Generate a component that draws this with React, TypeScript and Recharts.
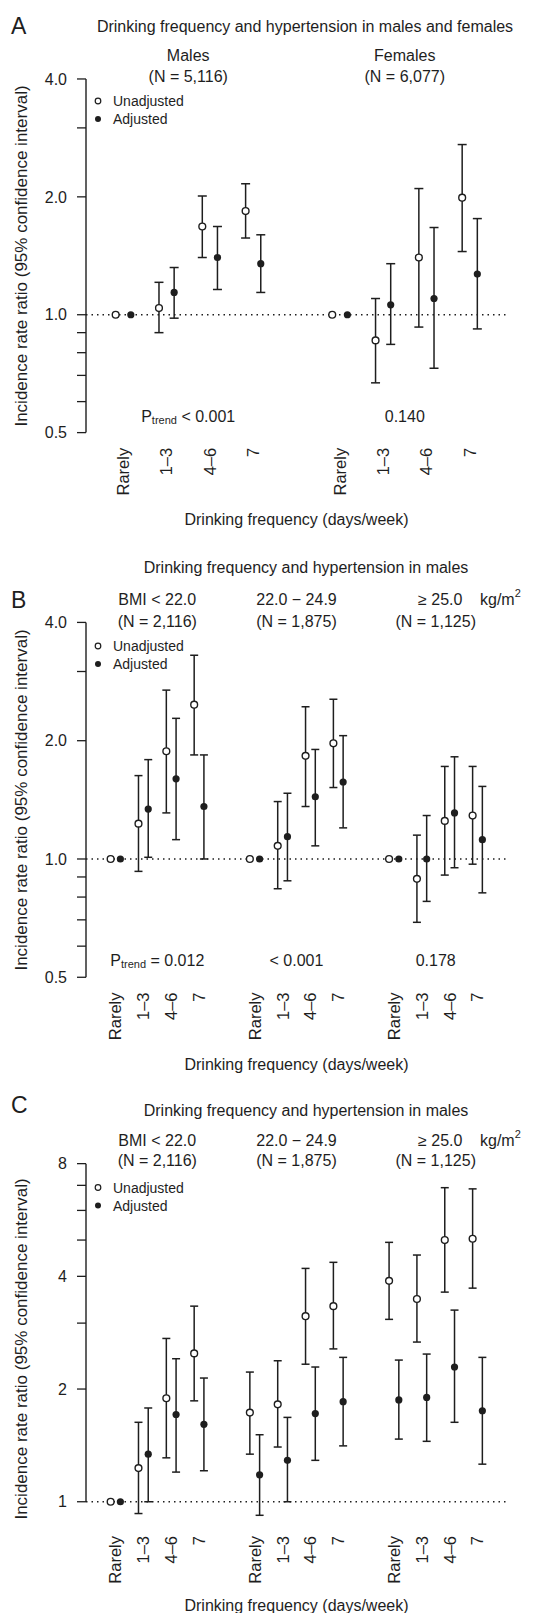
import React from "react";
import { ScatterChart, Scatter, ErrorBar, XAxis, YAxis, ReferenceLine } from "recharts";

const FONT = '"Liberation Sans", Arial, Helvetica, sans-serif';
const INK = "#1e1e1e";

const freqLabels = ["Rarely", "1–3", "4–6", "7"];
const xTitle = "Drinking frequency (days/week)";
const yTitle = "Incidence rate ratio (95% confidence interval)";

// ---------- Panel A ----------
const slotsA = [1, 2, 3, 4, 6, 7, 8, 9];
const groupsA = ["Males", "Females"];
const groupNA = ["(N = 5,116)", "(N = 6,077)"];
const pTrendA = ["< 0.001", "0.140"];
const unadjA = [1.0, 1.04, 1.68, 1.84, 1.0, 0.86, 1.4, 1.99];
const unadjLoA = [null, 0.9, 1.4, 1.57, null, 0.67, 0.93, 1.45];
const unadjHiA = [null, 1.21, 2.01, 2.16, null, 1.1, 2.1, 2.72];
const adjA = [1.0, 1.14, 1.4, 1.35, 1.0, 1.06, 1.1, 1.27];
const adjLoA = [null, 0.98, 1.16, 1.14, null, 0.84, 0.73, 0.92];
const adjHiA = [null, 1.32, 1.68, 1.6, null, 1.35, 1.67, 1.76];
const yTicksA = [0.5, 0.6, 0.7, 0.8, 0.9, 1, 2, 3, 4];
const yTickLabelsA = ["0.5", "", "", "", "", "1.0", "2.0", "", "4.0"];

// ---------- Panels B and C (BMI strata) ----------
const slotsBC = [1, 2, 3, 4, 6, 7, 8, 9, 11, 12, 13, 14];
const groupsBC = ["BMI < 22.0", "22.0 − 24.9", "≥ 25.0"];
const groupNBC = ["(N = 2,116)", "(N = 1,875)", "(N = 1,125)"];
const pTrendB = ["= 0.012", "< 0.001", "0.178"];

const unadjB = [1.0, 1.23, 1.88, 2.47, 1.0, 1.08, 1.83, 1.97, 1.0, 0.89, 1.25, 1.29];
const unadjLoB = [null, 0.93, 1.31, 1.84, null, 0.84, 1.36, 1.52, null, 0.69, 0.91, 0.97];
const unadjHiB = [null, 1.63, 2.69, 3.3, null, 1.4, 2.44, 2.55, null, 1.15, 1.72, 1.72];
const adjB = [1.0, 1.34, 1.6, 1.36, 1.0, 1.14, 1.44, 1.57, 1.0, 1.0, 1.31, 1.12];
const adjLoB = [null, 1.01, 1.12, 1.0, null, 0.88, 1.08, 1.2, null, 0.78, 0.95, 0.82];
const adjHiB = [null, 1.79, 2.28, 1.84, null, 1.47, 1.9, 2.06, null, 1.29, 1.82, 1.53];

const unadjC = [1.0, 1.23, 1.89, 2.49, 1.73, 1.82, 3.13, 3.33, 3.89, 3.48, 5.0, 5.04];
const unadjLoC = [null, 0.93, 1.31, 1.86, 1.34, 1.4, 2.33, 2.56, 3.07, 2.67, 3.63, 3.72];
const unadjHiC = [null, 1.63, 2.73, 3.33, 2.22, 2.38, 4.2, 4.36, 4.93, 4.56, 6.9, 6.85];
const adjC = [1.0, 1.34, 1.71, 1.61, 1.18, 1.29, 1.72, 1.85, 1.87, 1.9, 2.29, 1.75];
const adjLoC = [null, 1.0, 1.2, 1.21, 0.92, 1.0, 1.29, 1.41, 1.47, 1.45, 1.63, 1.26];
const adjHiC = [null, 1.78, 2.41, 2.14, 1.51, 1.68, 2.29, 2.43, 2.39, 2.48, 3.25, 2.43];

const yTicksB = [0.5, 0.6, 0.7, 0.8, 0.9, 1, 2, 3, 4];
const yTickLabelsB = ["0.5", "", "", "", "", "1.0", "2.0", "", "4.0"];
const yTicksC = [1, 2, 3, 4, 5, 6, 7, 8];
const yTickLabelsC = ["1", "2", "", "4", "", "", "", "8"];

// ---------- layout ----------
const DODGE = 0.175;
const PLOT_L = 86;
const PLOT_R = 507;
const xDomA: [number, number] = [0.14, 9.86];
const xDomBC: [number, number] = [-0.06, 15.06];

type Pt = { x: number; y: number; err: number[] | null };
function pairData(slots: number[], v: number[], lo: (number | null)[], hi: (number | null)[], dx: number): Pt[] {
  return slots.map((s, i) => ({
    x: s + dx,
    y: v[i],
    err: lo[i] == null || hi[i] == null ? null : [v[i] - (lo[i] as number), (hi[i] as number) - v[i]],
  }));
}

const OpenDot = (p: any) =>
  p.cx == null ? null : <circle cx={p.cx} cy={p.cy} r={3.4} fill="#fff" stroke={INK} strokeWidth={1.4} />;
const FilledDot = (p: any) => (p.cx == null ? null : <circle cx={p.cx} cy={p.cy} r={3.6} fill={INK} />);

function FreqTick(props: any) {
  const { x, y, payload, slots } = props;
  const i = (slots as number[]).indexOf(payload.value);
  if (i < 0) return null;
  return (
    <text
      x={x}
      y={y}
      transform={`rotate(-90 ${x} ${y})`}
      textAnchor="end"
      dy="0.36em"
      fontSize={16.5}
      fontFamily={FONT}
      fill={INK}
    >
      {freqLabels[i % 4]}
    </text>
  );
}

type PanelProps = {
  top: number;
  mTop: number;
  plotH: number;
  xDom: [number, number];
  slots: number[];
  yDom: [number, number];
  yTicks: number[];
  yLabels: string[];
  unadj: Pt[];
  adj: Pt[];
  cap: number;
};

function Panel(p: PanelProps) {
  const XH = 60;
  const height = p.mTop + p.plotH + XH;
  return (
    <div style={{ position: "absolute", left: 0, top: p.top }}>
      <ScatterChart width={552} height={height} margin={{ top: p.mTop, right: 552 - PLOT_R, bottom: 0, left: 0 }}>
        <XAxis
          type="number"
          dataKey="x"
          domain={p.xDom}
          allowDataOverflow
          ticks={p.slots}
          interval={0}
          axisLine={false}
          tickLine={false}
          tickSize={0}
          tickMargin={1}
          height={XH}
          tick={(tp: any) => <FreqTick {...tp} slots={p.slots} />}
        />
        <YAxis
          type="number"
          dataKey="y"
          scale="log"
          domain={p.yDom}
          allowDataOverflow
          ticks={p.yTicks}
          interval={0}
          width={PLOT_L}
          axisLine={false}
          tickLine={{ stroke: INK, strokeWidth: 1.3 }}
          tickSize={9}
          tickMargin={10}
          tick={{ fill: INK, fontSize: 16, fontFamily: FONT }}
          tickFormatter={(v: number) => {
            const i = p.yTicks.indexOf(v);
            return i >= 0 ? p.yLabels[i] : "";
          }}
        />
        <ReferenceLine y={1} stroke={INK} strokeWidth={1.3} strokeDasharray="1.5 4" ifOverflow="visible" />
        <ReferenceLine
          segment={[
            { x: p.xDom[0], y: p.yTicks[0] },
            { x: p.xDom[0], y: p.yTicks[p.yTicks.length - 1] },
          ]}
          stroke={INK}
          strokeWidth={1.4}
          ifOverflow="visible"
        />
        <Scatter data={p.unadj} shape={OpenDot} isAnimationActive={false}>
          <ErrorBar dataKey="err" direction="y" width={p.cap} stroke={INK} strokeWidth={1.5} />
        </Scatter>
        <Scatter data={p.adj} shape={FilledDot} isAnimationActive={false}>
          <ErrorBar dataKey="err" direction="y" width={p.cap} stroke={INK} strokeWidth={1.5} />
        </Scatter>
      </ScatterChart>
    </div>
  );
}

function gx(dom: [number, number], s: number) {
  return PLOT_L + ((s - dom[0]) / (dom[1] - dom[0])) * (PLOT_R - PLOT_L);
}

const T = (props: any) => (
  <text fontFamily={FONT} fill={INK} dominantBaseline="central" fontSize={16} {...props} />
);

function Legend({ y }: { y: number }) {
  return (
    <g>
      <circle cx={98} cy={y} r={2.8} fill="#fff" stroke={INK} strokeWidth={1.2} />
      <T x={113} y={y} fontSize={14}>Unadjusted</T>
      <circle cx={98} cy={y + 18} r={3} fill={INK} />
      <T x={113} y={y + 18} fontSize={14}>Adjusted</T>
    </g>
  );
}

function PTrend({ x, y, rest }: { x: number; y: number; rest: string }) {
  return (
    <T x={x} y={y} textAnchor="middle">
      <tspan>P</tspan>
      <tspan fontSize={11} dy={4}>trend</tspan>
      <tspan dy={-4}>{" " + rest}</tspan>
    </T>
  );
}

function Overlay() {
  const cA = [gx(xDomA, 2.5), gx(xDomA, 7.5)];
  const cB = [gx(xDomBC, 2.5), gx(xDomBC, 7.5), gx(xDomBC, 12.5)];
  const plotMid = (PLOT_L + PLOT_R) / 2;
  const headerBC = (row1: number, row2: number) => (
    <g>
      <T x={cB[0]} y={row1} textAnchor="middle">{groupsBC[0]}</T>
      <T x={cB[1]} y={row1} textAnchor="middle">{groupsBC[1]}</T>
      <T x={418} y={row1} textAnchor="start">{groupsBC[2]}</T>
      <T x={480} y={row1} textAnchor="start">
        kg/m<tspan fontSize={11} dy={-6}>2</tspan>
      </T>
      {groupNBC.map((t, i) => (
        <T key={t} x={cB[i]} y={row2} textAnchor="middle">{t}</T>
      ))}
    </g>
  );
  return (
    <svg width={552} height={1613} style={{ position: "absolute", left: 0, top: 0, pointerEvents: "none" }}>
      {/* Panel A */}
      <T x={11} y={26} fontSize={23}>A</T>
      <T x={305} y={26} textAnchor="middle">Drinking frequency and hypertension in males and females</T>
      {groupsA.map((g, i) => (
        <T key={g} x={cA[i]} y={55} textAnchor="middle">{g}</T>
      ))}
      {groupNA.map((g, i) => (
        <T key={g} x={cA[i]} y={76} textAnchor="middle">{g}</T>
      ))}
      <Legend y={101} />
      <PTrend x={cA[0]} y={416} rest={pTrendA[0]} />
      <T x={cA[1]} y={416} textAnchor="middle">{pTrendA[1]}</T>
      <T x={21} y={256} fontSize={17} textAnchor="middle" transform="rotate(-90 21 256)">{yTitle}</T>
      <T x={plotMid} y={519} textAnchor="middle">{xTitle}</T>

      {/* Panel B */}
      <T x={11} y={600} fontSize={23}>B</T>
      <T x={306} y={567} textAnchor="middle">Drinking frequency and hypertension in males</T>
      {headerBC(599, 621)}
      <Legend y={646} />
      <PTrend x={cB[0]} y={960} rest={pTrendB[0]} />
      <T x={cB[1]} y={960} textAnchor="middle">{pTrendB[1]}</T>
      <T x={cB[2]} y={960} textAnchor="middle">{pTrendB[2]}</T>
      <T x={21} y={800} fontSize={17} textAnchor="middle" transform="rotate(-90 21 800)">{yTitle}</T>
      <T x={plotMid} y={1064} textAnchor="middle">{xTitle}</T>

      {/* Panel C */}
      <T x={11} y={1105} fontSize={23}>C</T>
      <T x={306} y={1110} textAnchor="middle">Drinking frequency and hypertension in males</T>
      {headerBC(1140, 1160)}
      <Legend y={1187.5} />
      <T x={21} y={1349} fontSize={17} textAnchor="middle" transform="rotate(-90 21 1349)">{yTitle}</T>
      <T x={plotMid} y={1605} textAnchor="middle">{xTitle}</T>
    </svg>
  );
}

export default function App() {
  const uA = pairData(slotsA, unadjA, unadjLoA, unadjHiA, -DODGE);
  const aA = pairData(slotsA, adjA, adjLoA, adjHiA, DODGE);
  const uB = pairData(slotsBC, unadjB, unadjLoB, unadjHiB, -DODGE);
  const aB = pairData(slotsBC, adjB, adjLoB, adjHiB, DODGE);
  const uC = pairData(slotsBC, unadjC, unadjLoC, unadjHiC, -DODGE);
  const aC = pairData(slotsBC, adjC, adjLoC, adjHiC, DODGE);
  return (
    <div style={{ position: "absolute", left: 0, top: 0, width: 552, height: 1613, background: "#fff", fontFamily: FONT }}>
      <Panel top={0} mTop={64.7} plotH={382.1} xDom={xDomA} slots={slotsA} yDom={[0.46, 4.35]} yTicks={yTicksA} yLabels={yTickLabelsA} unadj={uA} adj={aA} cap={4.5} />
      <Panel top={540} mTop={68.1} plotH={383.4} xDom={xDomBC} slots={slotsBC} yDom={[0.46, 4.35]} yTicks={yTicksB} yLabels={yTickLabelsB} unadj={uB} adj={aB} cap={4} />
      <Panel top={1085} mTop={65} plotH={385} xDom={xDomBC} slots={slotsBC} yDom={[0.815, 8.7]} yTicks={yTicksC} yLabels={yTickLabelsC} unadj={uC} adj={aC} cap={4} />
      <Overlay />
    </div>
  );
}
